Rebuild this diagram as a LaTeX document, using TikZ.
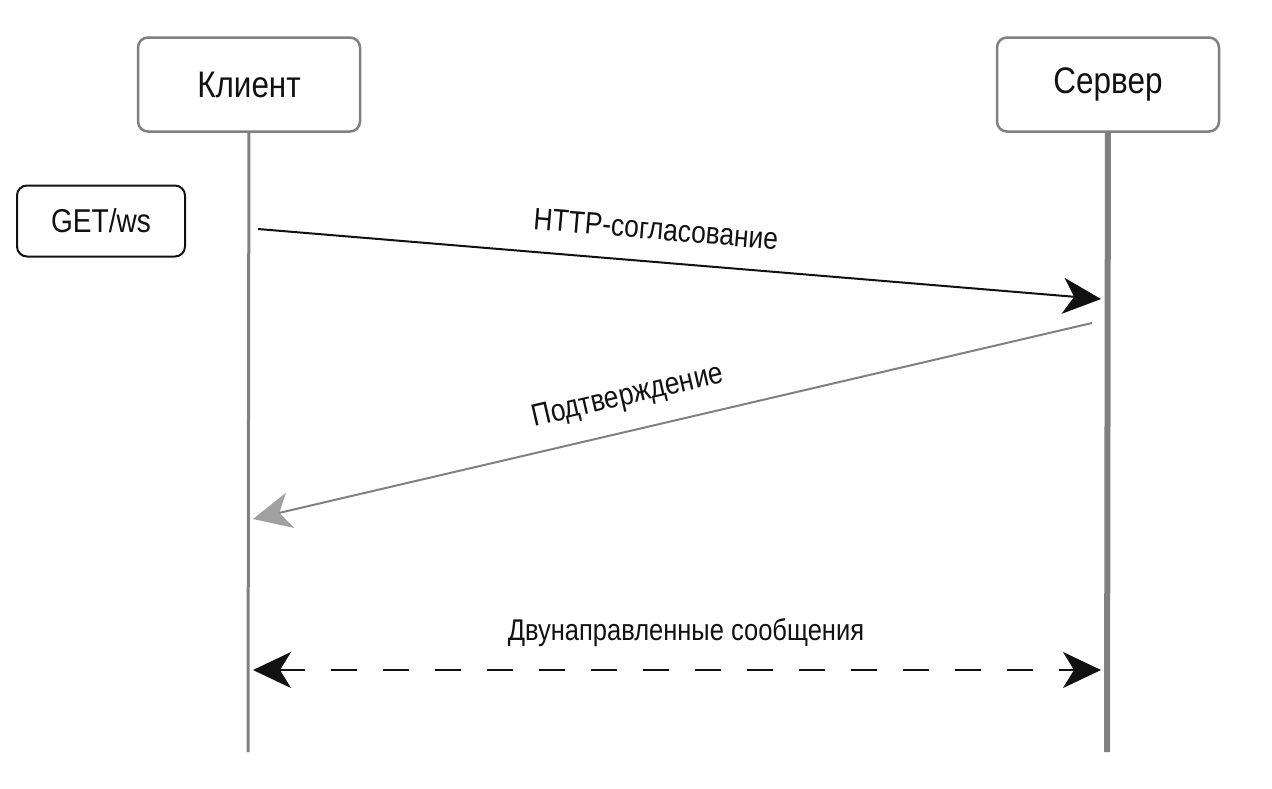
\documentclass[tikz,border=0pt]{standalone}
\usepackage{fontspec}
\setmainfont{Liberation Sans}[FakeStretch=0.85]
\usetikzlibrary{arrows.meta}
\usetikzlibrary{positioning}
\definecolor{lifegray}{HTML}{808080}
\definecolor{tipgray}{HTML}{A0A0A0}
\definecolor{ink}{HTML}{111111}
\tikzset{actor/.style = {draw = lifegray, line width = 2.5, rounded corners = 10,
                         minimum width = 222, minimum height = 94,
                         font = \fontsize{37}{40}\selectfont, text = ink}}
\tikzset{tag/.style = {draw = ink, line width = 2, rounded corners = 10,
                       minimum width = 168, minimum height = 71,
                       font = \fontsize{33}{36}\selectfont, text = ink}}
\tikzset{lbl/.style = {font = \fontsize{31}{34}\selectfont, text = ink, inner sep = 0}}
\tikzset{stealthy/.tip = {Stealth[length = 38, width = 36, inset = 11]}}
\tikzset{msg/.style = {draw = ink, line width = 2}}

\begin{document}
\begin{tikzpicture}[x = 1pt, y = -1pt]
    \useasboundingbox (0, 0) rectangle (1272, 788);

    \node (client) at (249, 84.5) [actor] {Клиент};
    \node (server) at (1108, 84.5) [actor] {Сервер};
    \node (get) at (101, 221) [tag] {GET/ws};

    \coordinate (client end) at (248, 752);
    \coordinate (server end) at (1107, 752);
    \draw [lifegray, line width = 3] (client) -- (client end);
    \draw [lifegray, line width = 6] (server) -- (server end);

    \coordinate (req from) at (258, 229);
    \coordinate (req to) at (1101, 299);
    \coordinate (ack from) at (1092, 323);
    \coordinate (ack to) at (253, 519);
    \coordinate (duplex left) at (253, 670);
    \coordinate (duplex right) at (1101, 670);

    \draw [msg, -stealthy] (req from) -- (req to);
    \node (req label) at (656, 229) [lbl, rotate = -4.8] {HTTP-согласование};

    \draw [lifegray, line width = 2, -{stealthy[color = tipgray]}] (ack from) -- (ack to);
    \node (ack label) at (628, 397) [lbl, rotate = 13.1] {Подтверждение};

    \draw [msg, stealthy-stealthy, dash pattern = on 26 off 26] (duplex left) -- (duplex right);
    \node (duplex label) at (686, 633) [lbl, font = \fontsize{30}{34}\selectfont] {Двунаправленные сообщения};
\end{tikzpicture}
\end{document}
